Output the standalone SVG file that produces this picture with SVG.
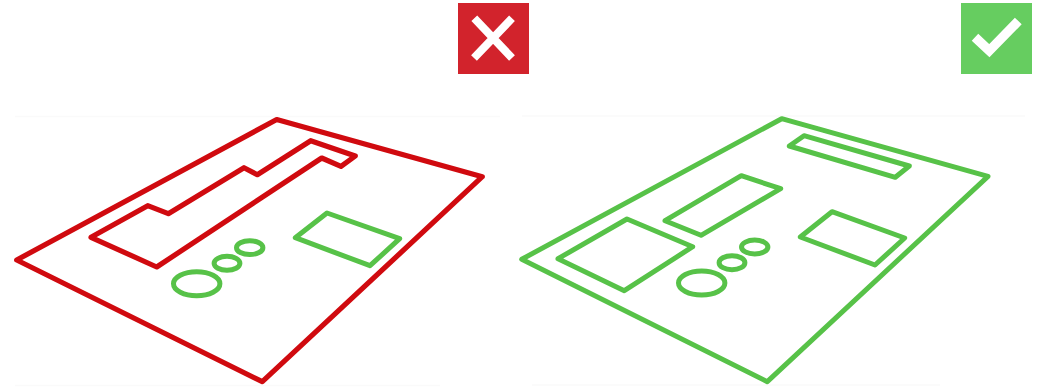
<svg xmlns="http://www.w3.org/2000/svg" width="1037" height="387" viewBox="0 0 1037 387">
<style>
.r{fill:none;stroke:#d00a0f;stroke-width:5.2;stroke-linejoin:round}
.g{fill:none;stroke:#57c248;stroke-width:5;stroke-linejoin:round}
.m{fill:none;stroke:#fff;stroke-linecap:butt}
.f{fill:none;stroke:#fafafa;stroke-width:1.5}
</style>
<rect width="1037" height="387" fill="#fff"/>
<g id="guides">
<path class="f" d="M15 116.500H500M15 385.500H440M522 116H1025M532 385H940"/>
</g>
<g id="bad-icon">
<rect x="458" y="3" width="71" height="71" fill="#d2232c"/>
<path class="m" stroke-width="8" d="M474.300 18.300L512 58M512 18.300L474 58"/>
</g>
<g id="good-icon">
<rect x="961" y="3" width="71" height="71" fill="#66cd60"/>
<path class="m" stroke-width="9.500" d="M975 37.300L989.300 50.700L1018.300 21"/>
</g>
<g id="bad-board">
<path class="r" d="M276.700 119.500L482.300 176.700L262.300 381.700L16.700 260Z"/>
<path class="r" d="M310.700 140.700L355.300 156L341 166.300L321.700 158L156.700 267L91 237.300L147.700 205.700L168.300 213.700L244 167.700L257.300 174.700Z"/>
<path class="g" d="M327 213L399.700 238.700L370 265.700L295.300 237.700Z"/>
<ellipse class="g" cx="196.700" cy="283.700" rx="23.200" ry="12"/>
<ellipse class="g" cx="227" cy="263.300" rx="12.900" ry="7"/>
<ellipse class="g" cx="249.700" cy="247.700" rx="13.200" ry="6.900"/>
</g>
<g id="good-board">
<path class="g" d="M781.700 118.700L988 176.300L767.300 381.700L521.700 259.300Z"/>
<path class="g" d="M804 135.700L909.300 166L895.300 177.300L789.300 146Z"/>
<path class="g" d="M741.300 175.700L780.700 188.700L701 235.300L665 220.700Z"/>
<path class="g" d="M627 219L692.700 246.700L624.300 290.700L558 258.700Z"/>
<path class="g" d="M832 211.700L904.700 238L875 265L800.300 237Z"/>
<ellipse class="g" cx="701.700" cy="283" rx="23.200" ry="12"/>
<ellipse class="g" cx="732" cy="262.700" rx="12.900" ry="7"/>
<ellipse class="g" cx="754.700" cy="247" rx="13.200" ry="6.900"/>
</g>
</svg>
